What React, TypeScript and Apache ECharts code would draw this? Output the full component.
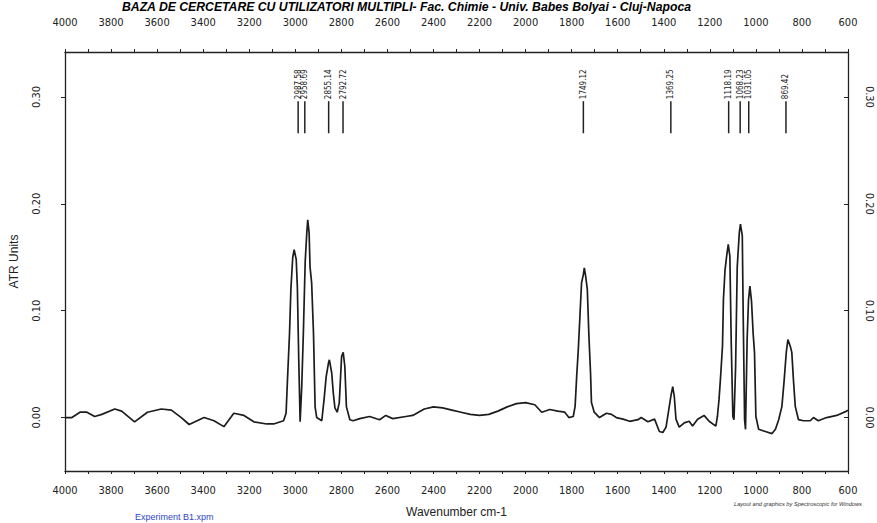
import React, { useEffect, useRef } from "react";
import * as echarts from "echarts";

// Spectrum (wavenumber cm-1, ATR units)
const wavenumbers = [
  4000, 3970, 3935, 3905, 3871, 3840, 3784, 3754, 3698, 3642, 3582, 3538, 3495, 3461, 3396, 3353, 3310, 3267, 3223, 3180, 3124, 3094, 3051,
  3040, 3034, 3025, 3019, 3011, 3005, 2996, 2991, 2985, 2979, 2972, 2965, 2957, 2950, 2946, 2940, 2936, 2929, 2921, 2914, 2907, 2885,
  2875, 2866, 2856, 2852, 2842, 2835, 2828, 2818, 2809, 2799, 2792, 2785, 2778, 2763, 2749, 2720, 2677, 2634, 2607, 2577, 2520, 2490,
  2440, 2400, 2360, 2320, 2280, 2240, 2200, 2160, 2120, 2080, 2040, 2000, 1960, 1930, 1895, 1860, 1830, 1812, 1793,
  1785, 1778, 1771, 1764, 1757, 1749, 1745, 1739, 1732, 1725, 1718, 1714, 1702, 1679, 1649, 1627, 1606, 1577, 1548, 1512, 1498, 1469,
  1440, 1419, 1404, 1390, 1376, 1368, 1361, 1354, 1347, 1333, 1311, 1290, 1275, 1253, 1225, 1203, 1174, 1167, 1160, 1153, 1145, 1141,
  1134, 1127, 1120, 1113, 1107, 1100, 1095, 1088, 1081, 1072, 1067, 1059, 1055, 1049, 1045, 1038, 1032, 1026, 1019, 1012, 1006, 1000,
  988, 959, 930, 915, 901, 887, 877, 868, 861, 851, 844, 837, 829, 815, 793, 764, 750, 729, 693, 649, 606, 600,
];
const absorbance = [
  0.0, 0.0, 0.005, 0.005, 0.001, 0.003, 0.008, 0.006, -0.004, 0.005, 0.008, 0.007, 0.0, -0.0065, 0.0, -0.003, -0.0085, 0.004, 0.002, -0.004, -0.006, -0.006, -0.003,
  0.004, 0.035, 0.079, 0.121, 0.15, 0.157, 0.148, 0.122, 0.054, -0.004, 0.029, 0.079, 0.146, 0.173, 0.185, 0.173, 0.141, 0.126, 0.079, 0.01, 0.0, -0.003,
  0.017, 0.038, 0.051, 0.054, 0.042, 0.023, 0.009, 0.005, 0.014, 0.057, 0.061, 0.048, 0.01, -0.002, -0.003, -0.001, 0.001, -0.002, 0.002, -0.001, 0.001, 0.002,
  0.008, 0.01, 0.009, 0.007, 0.005, 0.003, 0.002, 0.003, 0.006, 0.01, 0.013, 0.014, 0.012, 0.005, 0.0075, 0.006, 0.005, 0.0, 0.001,
  0.0105, 0.039, 0.064, 0.095, 0.126, 0.134, 0.14, 0.132, 0.12, 0.076, 0.042, 0.014, 0.005, 0.0, 0.004, 0.003, 0.0, -0.0015, -0.0035, -0.002, 0.0, -0.004,
  -0.0015, -0.013, -0.014, -0.009, 0.0105, 0.0215, 0.029, 0.019, -0.0015, -0.009, -0.005, -0.0035, -0.008, -0.0015, 0.002, -0.0035, -0.008, 0.001, 0.017, 0.039, 0.067, 0.11,
  0.138, 0.151, 0.162, 0.151, 0.07, 0.001, -0.002, 0.048, 0.141, 0.173, 0.181, 0.17, 0.095, -0.002, -0.011, 0.073, 0.11, 0.123, 0.109, 0.079, 0.061, 0.001,
  -0.011, -0.013, -0.015, -0.011, -0.002, 0.0105, 0.0355, 0.061, 0.073, 0.067, 0.061, 0.0355, 0.0105, -0.002, -0.003, -0.003, 0.0, -0.003, 0.0, 0.002, 0.006, 0.007,
];

// Labelled peaks
const peakMarkers = [2987.58, 2958.69, 2855.14, 2792.72, 1749.12, 1369.25, 1118.19, 1068.23, 1031.05, 869.42];

const yTickValues = [0, 0.1, 0.2, 0.3];

const titleText = "BAZA DE CERCETARE CU UTILIZATORI MULTIPLI- Fac. Chimie - Univ. Babes Bolyai - Cluj-Napoca";
const xAxisName = "Wavenumber cm-1";
const yAxisName = "ATR Units";
const fileName = "Experiment B1.xpm";
const footerNote = "Layout and graphics by Spectroscopic for Windows";

const FONT = '"Liberation Sans Narrow", "DejaVu Sans Condensed", "Liberation Sans", Arial, sans-serif';
const FONT_REG = '"Liberation Sans", Arial, sans-serif';

function measure(text: string, font: string): number {
  try {
    const c = document.createElement("canvas").getContext("2d");
    if (!c) return text.length * 7;
    c.font = font;
    return c.measureText(text).width;
  } catch (e) {
    return text.length * 7;
  }
}

export default function App() {
  const ref = useRef<HTMLDivElement>(null);

  useEffect(() => {
    if (!ref.current) return;
    const chart = echarts.init(ref.current, undefined, { renderer: "svg" });

    const titleFont = 'italic bold 13px "Liberation Sans"';
    const titleW = measure(titleText, titleFont);
    const titleScale = 570 / titleW;

    const footFont = 'italic 5px "Liberation Sans"';
    const footW = measure(footerNote, footFont);
    const footScale = 128 / footW;

    const lineColor = "#222";

    const xCommon = {
      type: "value" as const,
      min: 600,
      max: 4000,
      inverse: true,
      interval: 200,
      axisLine: { show: true, onZero: false, lineStyle: { color: lineColor, width: 1.3 } },
      axisTick: { show: true, length: 3, lineStyle: { color: lineColor } },
      minorTick: { show: true, splitNumber: 2, length: 3, lineStyle: { color: lineColor } },
      splitLine: { show: false },
      minorSplitLine: { show: false },
    };

    const yCommon = {
      type: "value" as const,
      min: -0.05,
      max: 0.342,
      axisLine: { show: true, onZero: false, lineStyle: { color: lineColor, width: 1.3 } },
      splitLine: { show: false },
    };

    const spectrum = wavenumbers.map((w, i) => [w, absorbance[i]]);
    const markerTop = 0.296;
    const markerBottom = 0.266;

    chart.setOption({
      animation: false,
      backgroundColor: "#ffffff",
      grid: { left: 60, right: 29, top: 52, bottom: 52 },
      xAxis: [
        {
          ...xCommon,
          position: "bottom",
          name: xAxisName,
          nameLocation: "middle",
          nameGap: 35,
          nameTextStyle: { color: lineColor, fontSize: 12, fontFamily: FONT_REG },
          axisLabel: {
            formatter: (v: number) => String(v),
            color: lineColor,
            fontSize: 11,
            fontFamily: FONT,
            margin: 14,
          },
        },
        {
          ...xCommon,
          position: "top",
          axisLabel: {
            formatter: (v: number) => String(v),
            color: lineColor,
            fontSize: 11,
            fontFamily: FONT,
            margin: 24,
          },
        },
      ],
      yAxis: [
        {
          ...yCommon,
          position: "left",
          name: yAxisName,
          nameLocation: "middle",
          nameGap: 45,
          nameRotate: 90,
          nameTextStyle: { color: lineColor, fontSize: 12, fontFamily: FONT_REG },
          axisTick: { show: true, length: 4, customValues: yTickValues, lineStyle: { color: lineColor } },
          axisLabel: {
            customValues: yTickValues,
            formatter: (v: number) => v.toFixed(2),
            rotate: 90,
            color: lineColor,
            fontSize: 11,
            fontFamily: FONT,
            margin: 23,
          },
        },
        {
          ...yCommon,
          position: "right",
          axisTick: { show: true, inside: true, length: 4, customValues: yTickValues, lineStyle: { color: lineColor } },
          axisLabel: {
            customValues: yTickValues,
            formatter: (v: number) => v.toFixed(2),
            rotate: -90,
            color: lineColor,
            fontSize: 11,
            fontFamily: FONT,
            margin: 16,
          },
        },
      ],
      series: [
        {
          type: "line",
          xAxisIndex: 0,
          yAxisIndex: 0,
          data: spectrum,
          showSymbol: false,
          symbol: "none",
          lineStyle: { color: "#1c1c1c", width: 1.7 },
          silent: true,
        },
        {
          type: "custom",
          xAxisIndex: 0,
          yAxisIndex: 0,
          silent: true,
          data: peakMarkers.map((w) => [w, markerTop]),
          encode: { x: 0, y: 1 },
          renderItem: (params: any, api: any) => {
            const w = api.value(0);
            const top = api.coord([w, markerTop]);
            const bot = api.coord([w, markerBottom]);
            return {
              type: "group",
              children: [
                {
                  type: "line",
                  shape: { x1: top[0], y1: top[1], x2: bot[0], y2: bot[1] },
                  style: { stroke: "#222", lineWidth: 1.5 },
                },
                {
                  type: "text",
                  x: top[0],
                  y: top[1] - 2,
                  rotation: Math.PI / 2,
                  style: {
                    text: Number(w).toFixed(2),
                    fill: "#222",
                    fontSize: 8,
                    fontFamily: FONT,
                    align: "left",
                    verticalAlign: "middle",
                  },
                },
              ],
            };
          },
        },
      ],
      graphic: [
        {
          type: "text",
          x: 122,
          y: 7,
          scaleX: titleScale,
          style: {
            text: titleText,
            fill: "#000",
            fontSize: 13,
            fontWeight: "bold",
            fontStyle: "italic",
            fontFamily: "Liberation Sans",
            align: "left",
            verticalAlign: "middle",
          },
        },
        {
          type: "text",
          x: 135,
          y: 517,
          style: {
            text: fileName,
            fill: "#2f45c8",
            fontSize: 9,
            fontFamily: FONT_REG,
            align: "left",
            verticalAlign: "middle",
          },
        },
        {
          type: "text",
          x: 734,
          y: 504,
          scaleX: footScale,
          style: {
            text: footerNote,
            fill: "#333",
            fontSize: 5,
            fontStyle: "italic",
            fontFamily: "Liberation Sans",
            align: "left",
            verticalAlign: "middle",
          },
        },
      ],
    });

    return () => {
      chart.dispose();
    };
  }, []);

  return <div ref={ref} style={{ width: 877, height: 523, position: "absolute", left: 0, top: 0 }} />;
}
